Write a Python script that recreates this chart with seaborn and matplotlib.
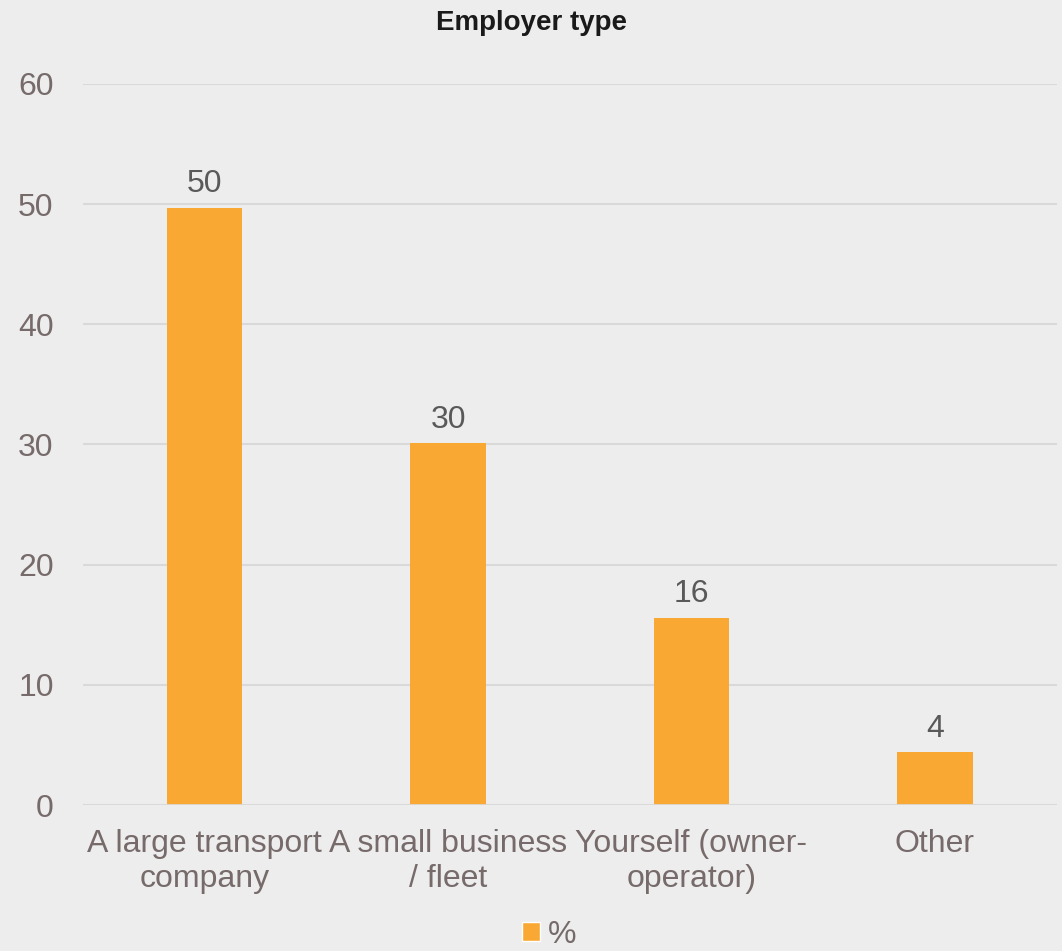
import matplotlib
matplotlib.use("Agg")
import matplotlib.pyplot as plt
import seaborn as sns
import pandas as pd
from matplotlib.patches import Patch

categories = ["A large transport\ncompany", "A small business\n/ fleet",
              "Yourself (owner-\noperator)", "Other"]
values = [49.7, 30.1, 15.6, 4.4]
y_ticks = [0, 10, 20, 30, 40, 50, 60]
series_name = "%"

bar_color = "#F9A834"
bg = "#EDEDED"
tick_color = "#766A6A"
label_color = "#595959"

sns.set_theme(style="white")
plt.rcParams["font.family"] = ["Liberation Sans", "DejaVu Sans"]

df = pd.DataFrame({"category": categories, "value": values})

fig = plt.figure(figsize=(10.62, 9.51), dpi=100, facecolor=bg)
ax = fig.add_axes([0.078, 0.1535, 0.917, 0.7582], facecolor=bg)

sns.barplot(data=df, x="category", y="value", color=bar_color,
            width=0.31, saturation=1, linewidth=0, ax=ax, zorder=3)

for c in ax.containers:
    ax.bar_label(c, fmt="%.0f", padding=6, fontsize=23, color=label_color)

ax.set_ylim(0, 60)
ax.set_yticks(y_ticks)
ax.set_xlim(-0.5, 3.5)
ax.grid(axis="y", color="#D9D9D9", linewidth=1.5, zorder=0)
ax.axhline(0, color="#D9D9D9", linewidth=2, zorder=4)
for s in ax.spines.values():
    s.set_visible(False)
ax.tick_params(axis="y", labelsize=23, colors=tick_color, length=0, pad=21)
ax.tick_params(axis="x", labelsize=23, colors=tick_color, length=0, pad=17)
for t in ax.get_xticklabels():
    t.set_linespacing(1.25)
ax.set_xlabel("")
ax.set_ylabel("")

fig.text(0.5, 0.976, "Employer type", ha="center", va="center",
         fontsize=20, fontweight="bold", color="#1A1A1A")

handles = [Patch(facecolor=bar_color, label=series_name)]
fig.legend(handles=handles, loc="center", bbox_to_anchor=(0.517, 0.017),
           frameon=False, fontsize=23, handlelength=0.55, handleheight=0.55,
           handletextpad=0.25, labelcolor=tick_color, borderpad=0.1)

fig.savefig("out.png", dpi=100, facecolor=bg)
